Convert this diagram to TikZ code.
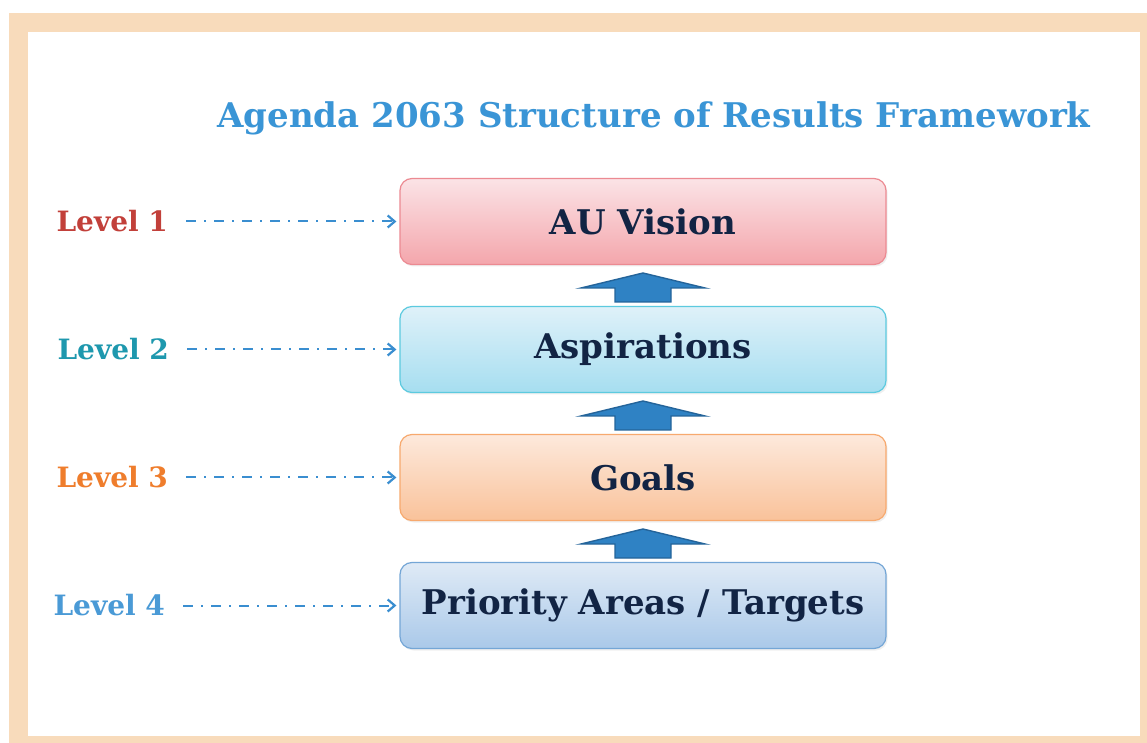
\documentclass[tikz,border=0pt]{standalone}
\usepackage{fontspec}
\setmainfont{DejaVu Serif}
\usetikzlibrary{positioning,arrows.meta,shadows,calc}

\definecolor{framebeige}{HTML}{F8DBBB}
\definecolor{titleblue}{HTML}{3A95D6}
\definecolor{boxtext}{HTML}{122444}
\definecolor{linkblue}{HTML}{3A8ED0}
\definecolor{arrowblue}{HTML}{2F82C4}
\definecolor{arrowedge}{HTML}{24649A}
\definecolor{lvlred}{HTML}{C2403A}
\definecolor{lvlteal}{HTML}{1E98AE}
\definecolor{lvlorange}{HTML}{EF7D2C}
\definecolor{lvlblue}{HTML}{4A9AD6}
% box fills
\definecolor{visiontop}{HTML}{FBE3E6}
\definecolor{visionbot}{HTML}{F4A6AC}
\definecolor{visionedge}{HTML}{EC8A92}
\definecolor{aspirtop}{HTML}{DFF1F9}
\definecolor{aspirbot}{HTML}{A6DEF0}
\definecolor{aspiredge}{HTML}{5CCADF}
\definecolor{goalstop}{HTML}{FDE9DC}
\definecolor{goalsbot}{HTML}{F9C29A}
\definecolor{goalsedge}{HTML}{F7A96E}
\definecolor{areastop}{HTML}{DFEAF6}
\definecolor{areasbot}{HTML}{AAC9E9}
\definecolor{areasedge}{HTML}{74A6D6}

\tikzset{level box/.style={draw,rounded corners=6pt,minimum width=243pt,minimum height=43pt,
		line width=0.6pt,font=\bfseries\fontsize{17}{20}\selectfont,text=boxtext,
		drop shadow={opacity=0.12,shadow xshift=0.8pt,shadow yshift=-1pt}},
	level label/.style={inner sep=0pt,anchor=east,font=\bfseries\fontsize{14}{17}\selectfont},
	dash link/.style={-{Straight Barb[length=3.5pt,width=6pt,line width=1.1pt]},draw=linkblue,line width=1pt,
		dash pattern=on 5pt off 4pt on 1pt off 4pt,shorten <=9pt,shorten >=1.5pt},
	up arrow/.pic={\filldraw[fill=arrowblue,draw=arrowedge,line width=0.7pt]
		(0,-12.5) -- (62,2.5) -- (28,2.5) -- (28,16.5) -- (-28,16.5) -- (-28,2.5) -- (-62,2.5) -- cycle;}
}

\begin{document}
\begin{tikzpicture}[x=0.5pt,y=-0.5pt]
	\useasboundingbox (0,0) rectangle (1147,743);
	\fill[framebeige] (9,13) rectangle (1147,743);
	\fill[white] (28,32) rectangle (1140,736);
	
	\node[text=titleblue,font=\bfseries\fontsize{17}{20}\selectfont,anchor=base] (title) at (654,128)
	{Agenda 2063 Structure of Results Framework};
	
	% the four levels
	\node[level box,draw=visionedge,top color=visiontop,bottom color=visionbot] (vision) at (643,221.5) {AU Vision};
	\node[level box,draw=aspiredge,top color=aspirtop,bottom color=aspirbot,below=20.4pt of vision] (aspir) {Aspirations};
	\node[level box,draw=goalsedge,top color=goalstop,bottom color=goalsbot,below=20.4pt of aspir] (goals) {Goals};
	\node[level box,draw=areasedge,top color=areastop,bottom color=areasbot,below=20.4pt of goals] (areas) {Priority Areas / Targets};
	
	\node[level label,text=lvlred,left=115.5pt of vision] (l1) {Level 1};
	\node[level label,text=lvlteal,left=115pt of aspir] (l2) {Level 2};
	\node[level label,text=lvlorange,left=115.5pt of goals] (l3) {Level 3};
	\node[level label,text=lvlblue,left=117pt of areas] (l4) {Level 4};
	
	\draw[dash link] (l1) -- (vision);
	\draw[dash link] (l2) -- (aspir);
	\draw[dash link] (l3) -- (goals);
	\draw[dash link] (l4) -- (areas);
	
	\pic at ($(vision.south)!0.5!(aspir.north)$) {up arrow};
	\pic at ($(aspir.south)!0.5!(goals.north)$) {up arrow};
	\pic at ($(goals.south)!0.5!(areas.north)$) {up arrow};
\end{tikzpicture}
\end{document}
